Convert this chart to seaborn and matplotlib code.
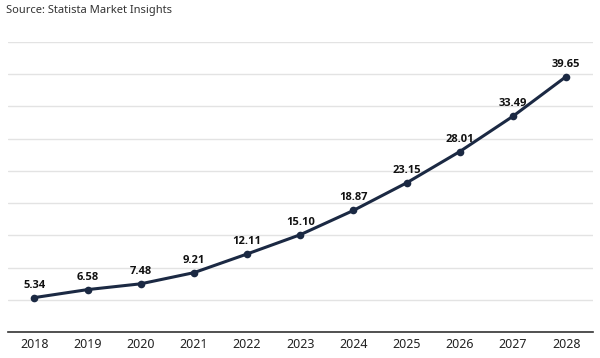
import matplotlib
matplotlib.use("Agg")
import matplotlib.pyplot as plt
import seaborn as sns
import pandas as pd

years = ["2018", "2019", "2020", "2021", "2022", "2023", "2024", "2025", "2026", "2027", "2028"]
values = [5.34, 6.58, 7.48, 9.21, 12.11, 15.10, 18.87, 23.15, 28.01, 33.49, 39.65]

df = pd.DataFrame({"year": years, "value": values})
df["pos"] = range(len(df))

sns.set_style("white")
plt.rcParams["font.family"] = ["Noto Sans", "DejaVu Sans"]

fig = plt.figure(figsize=(6, 3.58), dpi=100)
ax = fig.add_axes([0.013, 0.0726, 0.975, 0.81])

line_color = "#1b2943"
sns.lineplot(data=df, x="pos", y="value", ax=ax, color=line_color, linewidth=2.2,
             marker="o", markersize=5.5, markeredgewidth=0, zorder=3)

for p, v in zip(df["pos"], df["value"]):
    ax.annotate(f"{v:.2f}", (p, v), xytext=(0, 5), textcoords="offset points",
                ha="center", va="bottom", fontsize=8, fontweight="bold", fontstretch="normal",
                family=["Open Sans", "DejaVu Sans"], color="#111111")

ax.set_xlim(-0.5, 10.5)
ax.set_ylim(0, 45)
ax.set_yticks(range(0, 50, 5))
ax.yaxis.grid(True, color="#e3e3e3", linewidth=1)
ax.set_yticklabels([])
ax.tick_params(axis="y", length=0)
ax.set_xticks(df["pos"])
ax.set_xticklabels(years, fontsize=9, color="#222222")
ax.tick_params(axis="x", length=0, pad=4)
ax.set_xlabel("")
ax.set_ylabel("")
for s in ["top", "left", "right"]:
    ax.spines[s].set_visible(False)
ax.spines["bottom"].set_color("#333333")
ax.spines["bottom"].set_linewidth(1.2)

fig.text(0.01, 0.985, "Source: Statista Market Insights", ha="left", va="top",
         fontsize=8, color="#333333")

fig.savefig("out.png", dpi=100)
